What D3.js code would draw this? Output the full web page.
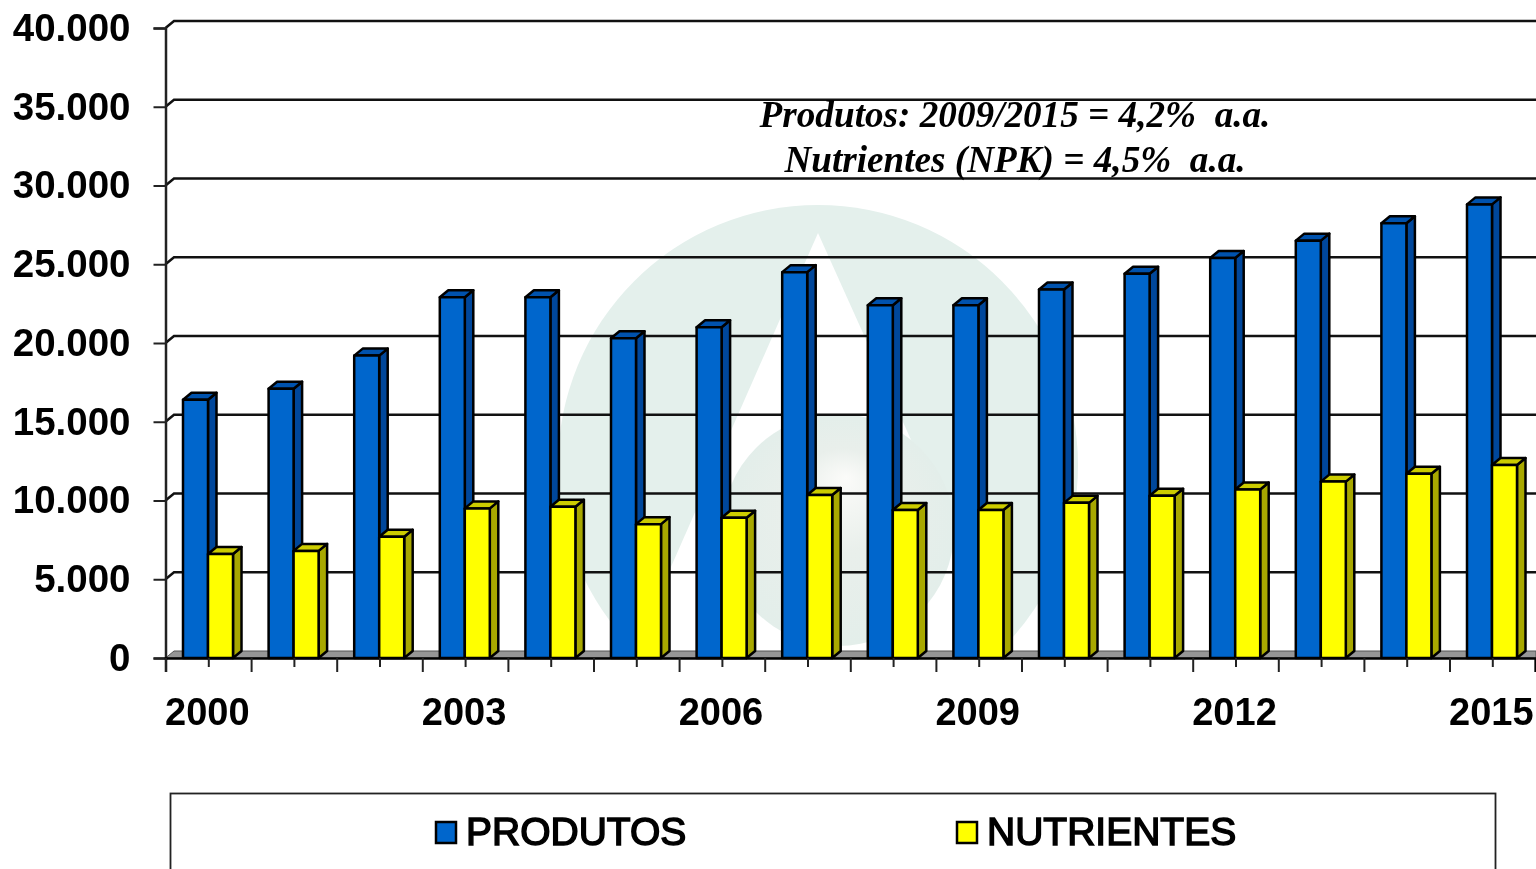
<!DOCTYPE html>
<html>
<head>
<meta charset="utf-8">
<script src="https://d3js.org/d3.v7.min.js"></script>
<style>
  html, body { margin: 0; padding: 0; background: #fff; overflow: hidden; }
  svg { display: block; filter: blur(0.5px); }
  .axis text { font-family: "Liberation Sans", Arial, sans-serif; font-weight: bold; fill: #000; }
</style>
</head>
<body>
<div id="chart"></div>
<script>
var years = ["2000","2001","2002","2003","2004","2005","2006","2007","2008","2009","2010","2011","2012","2013","2014","2015"];
var yearLabels = ["2000","2003","2006","2009","2012","2015"];
var produtos = [16400,17100,19200,22900,22900,20300,21000,24500,22400,22400,23400,24400,25400,26500,27600,28800];
var nutrientes = [6600,6800,7700,9500,9600,8500,8900,10350,9400,9400,9850,10300,10700,11200,11700,12250];
var yTicks = [0,5000,10000,15000,20000,25000,30000,35000,40000];
var seriesNames = ["PRODUTOS","NUTRIENTES"];
var noteLines = ["Produtos: 2009/2015 = 4,2%  a.a.","Nutrientes (NPK) = 4,5%  a.a."];

var width = 1536, height = 869;
var left = 165.5, right = 1535.1, bottom = 658, top_ = 28;
var depthX = 8.5, depthY = 7;

var svg = d3.select("#chart").append("svg")
  .attr("width", width)
  .attr("height", height);

var x0 = d3.scaleBand().domain(years).range([left, right]);
var x1 = d3.scaleBand().domain(seriesNames).range([17.5, 67.5]);
var y = d3.scaleLinear().domain([0, 40000]).range([bottom, top_]);

var ptBR = d3.formatLocale({ decimal: ",", thousands: ".", grouping: [3], currency: ["", ""] });

var colors = {
  PRODUTOS: { front: "#0066cc", side: "#00479b", top: "#0052ad" },
  NUTRIENTES: { front: "#ffff00", side: "#a8a800", top: "#cccc00" }
};

// ======== Watermark logo behind the plot ========
var defs = svg.append("defs");
defs.append("clipPath").attr("id", "plotClip").append("rect")
  .attr("x", left).attr("y", 0).attr("width", width - left).attr("height", bottom - 6);

var glow = defs.append("radialGradient").attr("id", "logoGlow")
  .attr("gradientUnits", "userSpaceOnUse")
  .attr("cx", 838).attr("cy", 530).attr("r", 116)
  .attr("fx", 846).attr("fy", 477);
glow.append("stop").attr("offset", "0").attr("stop-color", "#fbfbf9");
glow.append("stop").attr("offset", "0.45").attr("stop-color", "#e9efeb");
glow.append("stop").attr("offset", "1").attr("stop-color", "#e3eeea");

var logo = svg.append("g").attr("clip-path", "url(#plotClip)");
logo.append("circle").attr("cx", 818).attr("cy", 465).attr("r", 260).attr("fill", "#e4f0ec");
logo.append("path").attr("d", "M818,233L630,660L1010,660Z").attr("fill", "#fff");
logo.append("circle").attr("cx", 838).attr("cy", 530).attr("r", 116).attr("fill", "url(#logoGlow)");

// ======== Back wall grid and floor ========
var grid = svg.append("g").attr("fill", "none").attr("stroke", "#111").attr("stroke-width", 2.5);
grid.selectAll("path").data(yTicks.filter(function (d) { return d > 0; })).enter().append("path")
  .attr("d", function (d) {
    return "M" + left + "," + y(d) + "L" + (left + depthX) + "," + (y(d) - depthY) + "L" + width + "," + (y(d) - depthY);
  });

svg.append("path")
  .attr("d", "M" + left + "," + bottom + "L" + (left + depthX) + "," + (bottom - depthY) + "L" + width + "," + (bottom - depthY) + "L" + width + "," + bottom + "Z")
  .attr("fill", "#969696")
  .attr("stroke", "#555")
  .attr("stroke-width", 1);

// ======== Bars ========
var rows = years.map(function (year, i) {
  return { year: year, values: [
    { key: "PRODUTOS", value: produtos[i] },
    { key: "NUTRIENTES", value: nutrientes[i] }
  ] };
});

var layer = svg.selectAll(".layer").data(rows).enter().append("g")
  .attr("class", "layer")
  .attr("transform", function (d) { return "translate(" + x0(d.year) + ",0)"; });

var bar = layer.selectAll("g").data(function (d) { return d.values; }).enter().append("g")
  .attr("stroke", "#000")
  .attr("stroke-width", 2.5)
  .attr("stroke-linejoin", "round");

bar.append("path") // side
  .attr("fill", function (d) { return colors[d.key].side; })
  .attr("d", function (d) {
    var a = x1(d.key) + x1.bandwidth(), t = y(d.value);
    return "M" + a + "," + t + "l" + depthX + "," + (-depthY) + "V" + (bottom - depthY) + "l" + (-depthX) + "," + depthY + "Z";
  });
bar.append("path") // top
  .attr("fill", function (d) { return colors[d.key].top; })
  .attr("d", function (d) {
    var a = x1(d.key), t = y(d.value);
    return "M" + a + "," + t + "l" + depthX + "," + (-depthY) + "h" + x1.bandwidth() + "l" + (-depthX) + "," + depthY + "Z";
  });
bar.append("rect") // front
  .attr("x", function (d) { return x1(d.key); })
  .attr("y", function (d) { return y(d.value); })
  .attr("width", x1.bandwidth())
  .attr("height", function (d) { return bottom - y(d.value); })
  .attr("fill", function (d) { return colors[d.key].front; });

// ======== Axes ========
var yAxis = d3.axisLeft(y).tickValues(yTicks).tickSize(12).tickPadding(23)
  .tickFormat(ptBR.format(",d"));
var gy = svg.append("g").attr("class", "axis axis--y")
  .attr("transform", "translate(" + left + ",0)")
  .call(yAxis);
gy.selectAll("text").style("font-size", "38.5px");
gy.selectAll("line").attr("stroke", "#222").attr("stroke-width", 2);
gy.select(".domain").attr("stroke", "#222").attr("stroke-width", 2.5);

// long ticks on the year edges, short ticks between the two bars of a year
var edges = years.map(function (d) { return x0(d); });
var centers = years.map(function (d) { return x0(d) + x0.bandwidth() / 2; });
var xEdge = d3.scaleLinear().domain([left, right]).range([left, right]);
var gxEdge = svg.append("g").attr("class", "axis axis--edges")
  .attr("transform", "translate(0," + bottom + ")")
  .call(d3.axisBottom(xEdge).tickValues(edges).tickSize(14).tickFormat(""));
gxEdge.selectAll("line").attr("stroke", "#222").attr("stroke-width", 2);
gxEdge.select(".domain").attr("stroke", "#000").attr("stroke-width", 2.5);

var gxMid = svg.append("g").attr("class", "axis axis--mid")
  .attr("transform", "translate(0," + bottom + ")")
  .call(d3.axisBottom(xEdge).tickValues(centers).tickSize(9).tickFormat(""));
gxMid.selectAll("line").attr("stroke", "#222").attr("stroke-width", 2);
gxMid.select(".domain").remove();

var gx = svg.append("g").attr("class", "axis axis--x")
  .attr("transform", "translate(-1," + bottom + ")")
  .call(d3.axisBottom(x0).tickSize(0).tickPadding(40)
    .tickFormat(function (d) { return yearLabels.indexOf(d) >= 0 ? d : ""; }));
gx.select(".domain").remove();
gx.selectAll("text").style("font-size", "38px");

// ======== Growth note ========
svg.append("g").selectAll("text").data(noteLines).enter().append("text")
  .attr("x", 1015)
  .attr("y", function (d, i) { return 127 + i * 45; })
  .attr("text-anchor", "middle")
  .style("white-space", "pre")
  .style("font-family", '"Liberation Serif", "Times New Roman", serif')
  .style("font-weight", "bold")
  .style("font-style", "italic")
  .style("font-size", "37.2px")
  .text(function (d) { return d; });

// ======== Legend ========
svg.append("rect")
  .attr("x", 170.5).attr("y", 793.5)
  .attr("width", 1325).attr("height", 120)
  .attr("fill", "#fff").attr("stroke", "#222").attr("stroke-width", 1.8);

var legendX = d3.scalePoint().domain(seriesNames).range([436, 957]);
var legend = svg.selectAll(".legend").data(seriesNames).enter().append("g")
  .attr("class", "legend")
  .attr("transform", function (d) { return "translate(" + legendX(d) + ",0)"; });
legend.append("rect")
  .attr("x", 0).attr("y", 822).attr("width", 20).attr("height", 21)
  .attr("fill", function (d) { return colors[d].front; })
  .attr("stroke", "#000").attr("stroke-width", 2.5);
legend.append("text")
  .attr("x", 30).attr("y", 845)
  .style("font-family", '"Liberation Sans", Arial, sans-serif')
  .style("font-size", "39px")
  .style("stroke", "#000")
  .style("stroke-width", 1.5)
  .text(function (d) { return d; });
</script>
</body>
</html>
